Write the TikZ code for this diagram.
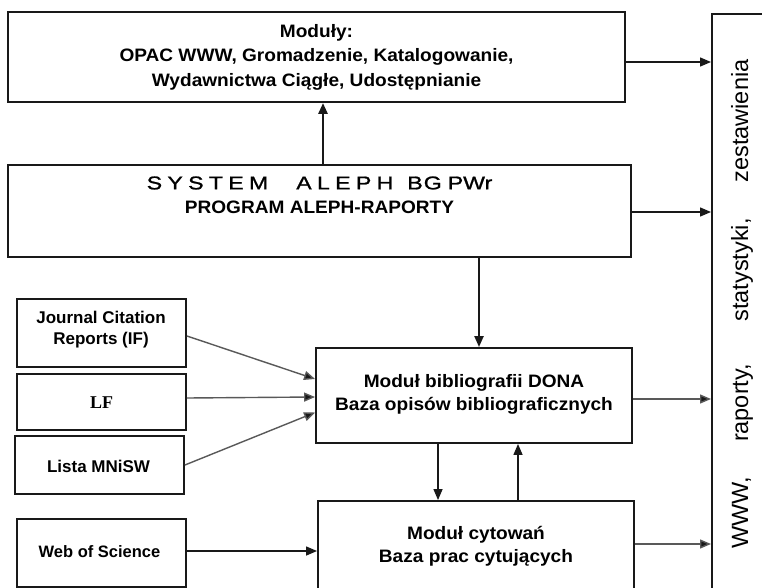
\documentclass[tikz,border=0pt]{standalone}
\usepackage{fontspec}
\setmainfont{Liberation Sans}
\newfontfamily\spfont[FakeStretch=1.06]{Liberation Sans}
\newfontfamily\stretchfont[FakeStretch=1.25,FakeBold=1.2]{Liberation Sans}
\newfontfamily\serifbf{Liberation Serif}
\usetikzlibrary{arrows.meta,calc}
\newcommand{\lgap}{\hspace{5.3pt}}
\begin{document}
\begin{tikzpicture}[x=1pt,y=-1pt,
  box/.style={draw=black!90, line width=1.9pt, inner sep=0pt},
  txt/.style={align=center, inner sep=0pt, font=\spfont\bfseries\fontsize{18}{23}\selectfont},
  plain/.style={align=center, inner sep=0pt, font=\bfseries\fontsize{17}{21}\selectfont},
  side/.style={rotate=90, anchor=base, inner sep=0pt, font=\fontsize{23.5}{26}\selectfont},
  arr/.style={-{Triangle[length=11pt,width=9pt]}, line width=1.4pt, draw=black!90},
  garr/.style={arr, draw=black!65, -{Triangle[length=11pt,width=9pt,fill=black!90]}}]
\useasboundingbox (0,0) rectangle (762,588);
\clip (0,0) rectangle (762,588);
\fill[white] (0,0) rectangle (762,588);

% boxes
\node[box, minimum width=617pt, minimum height=90pt] (mod) at (316.5,57) {};
\node[box, minimum width=623pt, minimum height=92pt] (sys) at (319.5,211) {};
\node[box, minimum width=169pt, minimum height=68pt] (jcr) at (101.5,333) {};
\node[box, minimum width=169pt, minimum height=56pt] (lf) at (101.5,402) {};
\node[box, minimum width=169pt, minimum height=58pt] (mnisw) at (99.5,465) {};
\node[box, minimum width=169pt, minimum height=68pt] (wos) at (101.5,553) {};
\node[box, minimum width=316pt, minimum height=95pt] (dona) at (474,395.5) {};
\node[box, minimum width=316pt, minimum height=93pt] (cyt) at (476,547.5) {};
\node[box, minimum width=100pt, minimum height=620pt, anchor=north west] (out) at (711,13) {};

% texts
\node[txt, font=\spfont\bfseries\fontsize{18}{24.5}\selectfont] (modt) at (316.5,57)
  {Moduły:\\OPAC WWW, Gromadzenie, Katalogowanie,\\Wydawnictwa Ciągłe, Udostępnianie};
\node[txt, font=\spfont\bfseries\fontsize{18}{24}\selectfont] (syst) at (319.5,195)
  {{\stretchfont\mdseries\fontsize{18.5}{24}\selectfont S\lgap Y\lgap S\lgap T\lgap E\lgap M\hspace{28pt}A\lgap L\lgap E\lgap P\lgap H\hspace{14pt}B\hspace{1pt}G\hspace{6pt}PWr}\\PROGRAM ALEPH-RAPORTY};
\node[plain] (jcrt) at (101,329.3) {Journal Citation\\Reports (IF)};
\node[inner sep=0pt, font=\serifbf\bfseries\fontsize{18}{20}\selectfont] (lft) at (101.5,402.5) {LF};
\node[plain] (mniswt) at (98.5,466) {Lista MNiSW};
\node[plain, font=\bfseries\fontsize{16.5}{20}\selectfont] (wost) at (99.5,551.5) {Web of Science};
\node[txt] (donat) at (474,394) {Moduł bibliografii DONA\\Baza opisów bibliograficznych};
\node[txt] (cytt) at (476,546.5) {Moduł cytowań\\Baza prac cytujących};

\node[side] (w1) at (748,121) {zestawienia};
\node[side] (w2) at (748,270) {statystyki,};
\node[side] (w3) at (748,403) {raporty,};
\node[side] (w4) at (748,513) {WWW,};

% connectors
\path (mod.east) ++(0,5) coordinate (m1);
\draw[arr] (m1) -- (m1 -| out.west);
\path (sys.east) ++(0,1) coordinate (s0);
\draw[arr] (s0) -- (s0 -| out.west);
\path (sys.north) ++(3.5,0) coordinate (s1);
\draw[arr, line width=2.6pt] (s1) -- (s1 |- mod.south);
\path (sys.south) ++(159.5,0) coordinate (s2);
\draw[arr, line width=2.2pt] (s2) -- (s2 |- dona.north);

\path (jcr.east) ++(0,3) coordinate (j1);
\path (dona.west) ++(0,-16.5) coordinate (d1);
\draw[garr] (j1) -- (d1);
\path (lf.east) ++(0,-4) coordinate (l1);
\path (dona.west) ++(0,1.5) coordinate (d2);
\draw[garr] (l1) -- (d2);
\path (dona.west) ++(0,17) coordinate (d3);
\draw[garr] (mnisw.east) -- (d3);
\path (wos.east) ++(0,-2) coordinate (w0);
\draw[arr] (w0) -- (w0 -| cyt.west);

\path (dona.south) ++(-36,0) coordinate (d4);
\draw[arr] (d4) -- (d4 |- cyt.north);
\path (cyt.north) ++(42,0) coordinate (c1);
\draw[arr] (c1) -- (c1 |- dona.south);

\path (dona.east) ++(0,3.5) coordinate (d5);
\draw[garr] (d5) -- (d5 -| out.west);
\path (cyt.east) ++(0,-3.5) coordinate (c2);
\draw[garr] (c2) -- (c2 -| out.west);
\end{tikzpicture}
\end{document}
